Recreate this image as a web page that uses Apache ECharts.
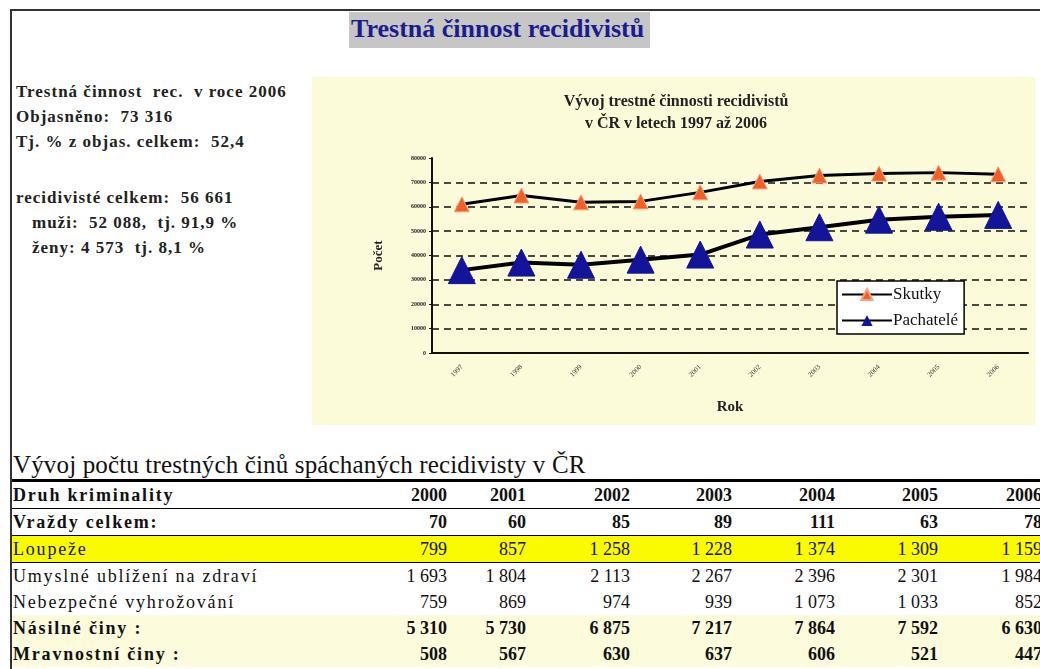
<!DOCTYPE html>
<html>
<head>
<meta charset="utf-8">
<script src="https://cdn.jsdelivr.net/npm/echarts/dist/echarts.min.js"></script>
<style>
body { margin: 0; background: #fff; font-family: "Liberation Serif", "Times New Roman", "DejaVu Serif", serif; color: #111; }
#page { position: relative; width: 1040px; height: 669px; overflow: hidden; }
#frameTop { position: absolute; left: 10px; top: 9px; width: 1030px; height: 2px; background: #333; }
#frameLeft { position: absolute; left: 10px; top: 9px; width: 2px; height: 660px; background: #333; }
#title { position: absolute; left: 349px; top: 12px; width: 301px; height: 36px; background: #c6c6c6;
  color: #1c1c8e; font-weight: bold; font-size: 26px; line-height: 34px; padding-left: 2px; box-sizing: border-box; white-space: nowrap; }
#info { position: absolute; left: 16px; top: 79px; font-size: 17px; font-weight: bold; line-height: 25px; color: #222; letter-spacing: 1px; white-space: nowrap; }
#info .ind { padding-left: 16px; }
#main { position: absolute; left: 312px; top: 77px; width: 723px; height: 348px; }
#tabTitle { position: absolute; left: 13px; top: 450px; font-size: 25px; line-height: 30px; letter-spacing: 0.15px; white-space: nowrap; }
#tab { position: absolute; left: 12px; top: 479px; width: 1031px; border-collapse: collapse; table-layout: fixed;
  border-top: 3px solid #000; font-size: 18px; }
#tab td { padding: 0 1px; height: 26px; line-height: 25px; white-space: nowrap; overflow: hidden; }
#tab td.n { text-align: right; }
#tab td.lab { letter-spacing: 1.8px; }
#tab tr.b td { font-weight: bold; }
#tab tr.line td { border-bottom: 1.5px solid #000; }
#tab tr.yel td { background: #fafa00; }
#tab tr.ly td { background: #fcfbdc; }
</style>
</head>
<body>
<div id="page">
  <div id="frameTop"></div>
  <div id="frameLeft"></div>
  <div id="title">Trestná činnost recidivistů</div>
  <div id="info">
    <div>Trestná činnost&nbsp; rec.&nbsp; v roce 2006</div>
    <div>Objasněno:&nbsp; 73 316</div>
    <div>Tj. % z objas. celkem:&nbsp; 52,4</div>
    <div>&nbsp;</div>
    <div style="margin-top:6px">recidivisté celkem:&nbsp; 56 661</div>
    <div class="ind">muži:&nbsp; 52 088,&nbsp; tj. 91,9 %</div>
    <div class="ind">ženy: 4 573&nbsp; tj. 8,1 %</div>
  </div>
  <div id="main"></div>
  <div id="tabTitle">Vývoj počtu trestných činů spáchaných recidivisty v ČR</div>
  <table id="tab"></table>
</div>
<script>
// data for the chart
var years = ['1997', '1998', '1999', '2000', '2001', '2002', '2003', '2004', '2005', '2006'];
var skutky = [61000, 64600, 61800, 62200, 65900, 70400, 72800, 73600, 74000, 73316];
var pachatele = [34000, 37100, 36200, 38300, 40400, 48600, 51600, 54700, 55900, 56661];

// data for the table
var tabYears = ['2000', '2001', '2002', '2003', '2004', '2005', '2006'];
var tabNames = ['Vraždy celkem:', 'Loupeže', 'Umyslné ublížení na zdraví', 'Nebezpečné vyhrožování', 'Násilné činy :', 'Mravnostní činy :'];
var vrazdy = [70, 60, 85, 89, 111, 63, 78];
var loupeze = [799, 857, 1258, 1228, 1374, 1309, 1159];
var ublizeni = [1693, 1804, 2113, 2267, 2396, 2301, 1984];
var vyhrozovani = [759, 869, 974, 939, 1073, 1033, 852];
var nasilne = [5310, 5730, 6875, 7217, 7864, 7592, 6630];
var mravnostni = [508, 567, 630, 637, 606, 521, 447];

var tabRows = [vrazdy, loupeze, ublizeni, vyhrozovani, nasilne, mravnostni];
var rowClass = ['b line', 'yel line', '', '', 'b ly', 'b ly'];
var colW = [355, 81, 79, 104, 102, 103, 103, 104];

function fmt(n) { //mezera mezi tisici
    return String(n).replace(/\B(?=(\d{3})+(?!\d))/g, '\u00a0');
}

function buildTable() {
    var html = '<colgroup>';
    for (var i = 0; i < colW.length; i++) {
        html += '<col style="width:' + colW[i] + 'px">';
    }
    html += '</colgroup>';
    html += '<tr class="b line"><td class="lab">Druh kriminality</td>';
    for (var j = 0; j < tabYears.length; j++) {
        html += '<td class="n">' + tabYears[j] + '</td>';
    }
    html += '</tr>';
    for (var r = 0; r < tabRows.length; r++) {
        html += '<tr class="' + rowClass[r] + '"><td class="lab">' + tabNames[r] + '</td>';
        for (var k = 0; k < tabRows[r].length; k++) {
            html += '<td class="n">' + fmt(tabRows[r][k]) + '</td>';
        }
        html += '</tr>';
    }
    document.getElementById('tab').innerHTML = html;
}

function initChart() {
    var myChart = echarts.init(document.getElementById('main'));
    var serif = 'Liberation Serif';
    var option = {
        backgroundColor: '#fcfbd9',
        animation: false,
        title: {
            text: 'Vývoj trestné činnosti recidivistů\nv ČR v letech 1997 až 2006',
            left: 359,
            top: 9,
            textAlign: 'center',
            textStyle: { fontFamily: serif, fontSize: 16, fontWeight: 'bold', color: '#222', lineHeight: 22 }
        },
        legend: {
            orient: 'vertical',
            left: 525,
            top: 204,
            itemWidth: 50,
            itemHeight: 14,
            itemGap: 9,
            padding: [5, 6, 5, 4],
            backgroundColor: '#fff',
            borderColor: '#000',
            borderWidth: 1.5,
            borderRadius: 0,
            textStyle: { fontFamily: serif, fontSize: 17, color: '#111', padding: [0, 0, 0, -4] },
            data: ['Skutky', 'Pachatelé']
        },
        grid: { left: 120, top: 81, width: 596, height: 195 },
        xAxis: {
            type: 'category',
            data: years,
            boundaryGap: true,
            name: 'Rok',
            nameLocation: 'middle',
            nameGap: 47,
            nameTextStyle: { fontFamily: serif, fontSize: 15, fontWeight: 'bold', color: '#222' },
            axisLine: { lineStyle: { color: '#111', width: 2 } },
            axisTick: { length: 4, lineStyle: { color: '#111', width: 1.5 } },
            axisLabel: { rotate: 45, fontSize: 7, fontFamily: serif, color: '#333', margin: 13 }
        },
        yAxis: {
            type: 'value',
            min: 0,
            max: 80000,
            interval: 10000,
            name: 'Počet',
            nameLocation: 'middle',
            nameRotate: 90,
            nameGap: 47,
            nameTextStyle: { fontFamily: serif, fontSize: 13, fontWeight: 'bold', color: '#222' },
            axisLine: { show: true, lineStyle: { color: '#111', width: 2 } },
            axisTick: { show: true, length: 3, lineStyle: { color: '#111' } },
            axisLabel: {
                fontSize: 6, fontWeight: 'bold', fontFamily: serif, color: '#222', margin: 6,
                formatter: function (v) { return String(v); }
            },
            splitLine: {
                show: true,
                showMaxLine: false,
                lineStyle: { color: '#111', width: 1.5, type: [7, 5] }
            }
        },
        series: [
            {
                name: 'Skutky',
                type: 'line',
                data: skutky,
                symbol: 'triangle',
                symbolSize: 15,
                itemStyle: { color: '#f2602a', borderColor: '#f7a07a', borderWidth: 1 },
                lineStyle: { color: '#000', width: 3 },
                z: 3
            },
            {
                name: 'Pachatelé',
                type: 'line',
                data: pachatele,
                symbol: 'triangle',
                symbolSize: 27,
                itemStyle: { color: '#14149a', borderColor: '#14149a' },
                lineStyle: { color: '#000', width: 4 },
                z: 3
            }
        ]
    };
    myChart.setOption(option);
}

buildTable();
initChart();
</script>
</body>
</html>
